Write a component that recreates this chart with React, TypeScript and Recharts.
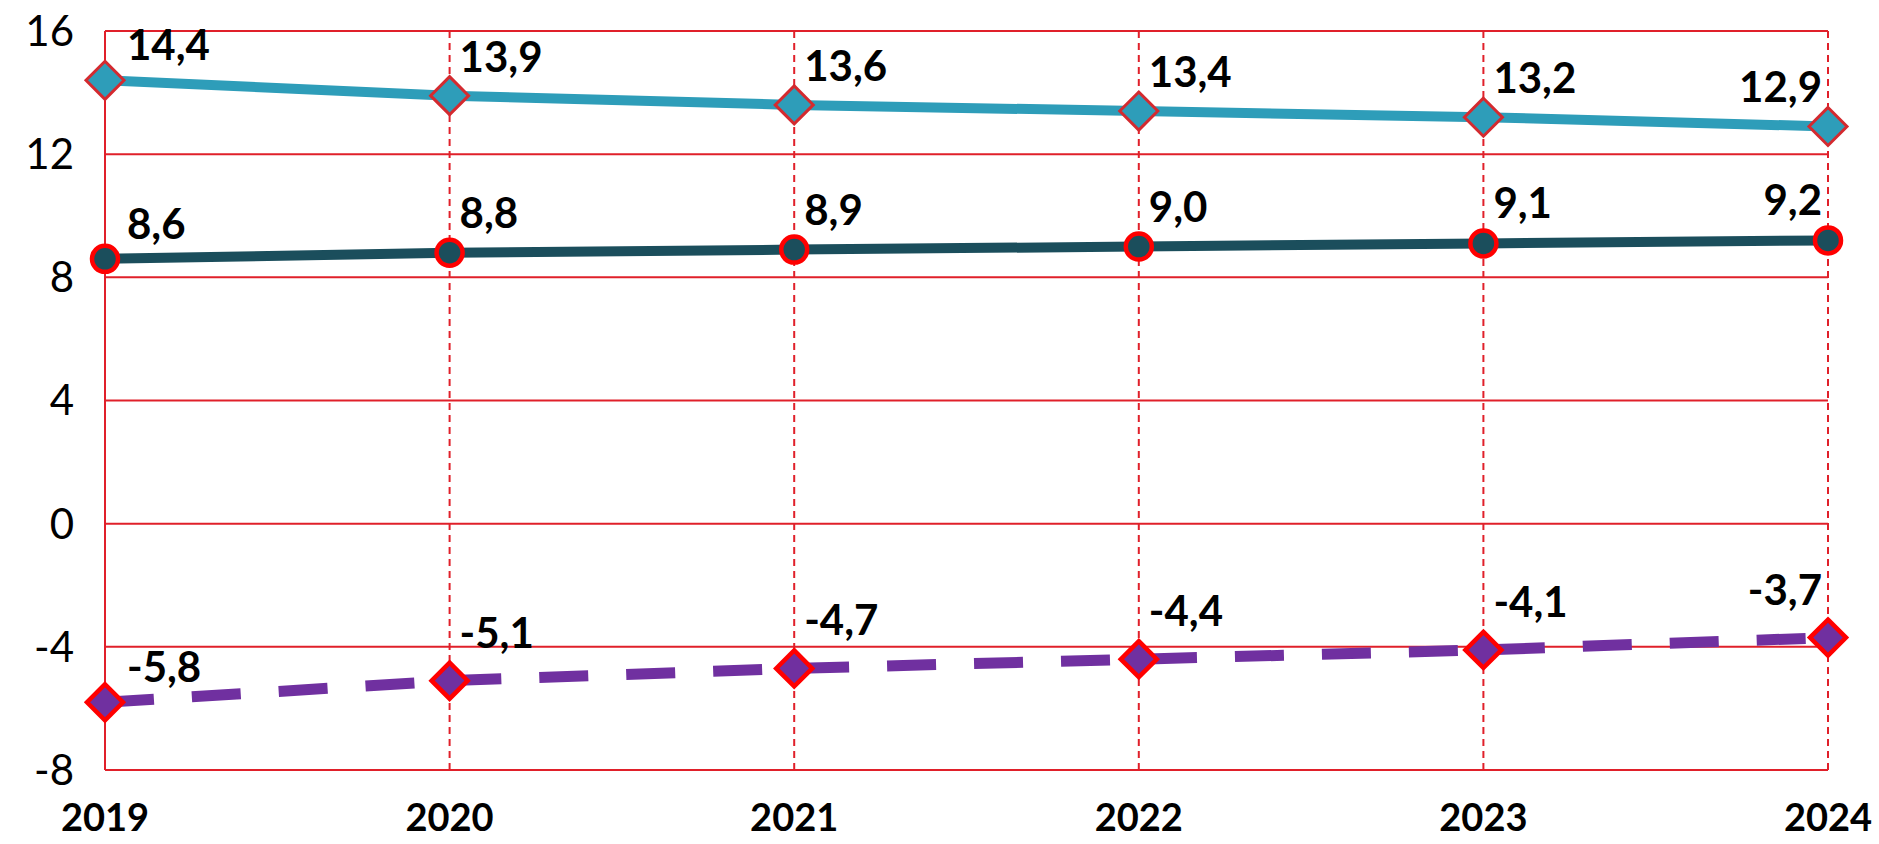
import React from 'react';
import { LineChart, Line, XAxis, YAxis, CartesianGrid, LabelList } from 'recharts';

const years = ['2019', '2020', '2021', '2022', '2023', '2024'];
const seriesTeal = [14.4, 13.9, 13.6, 13.4, 13.2, 12.9];
const seriesDark = [8.6, 8.8, 8.9, 9.0, 9.1, 9.2];
const seriesPurple = [-5.8, -5.1, -4.7, -4.4, -4.1, -3.7];
const yTicks = [-8, -4, 0, 4, 8, 12, 16];

const data = years.map((y, i) => ({
  year: y,
  teal: seriesTeal[i],
  dark: seriesDark[i],
  purple: seriesPurple[i],
}));

const FONT = 'Lato, "Open Sans", sans-serif';
const GRID = '#E0202A';

const fmt = (v: number) => v.toFixed(1).replace('.', ',');

const makeLabel = (dyMain: number) => (props: any) => {
  const { x, y, value, index } = props;
  const last = index === years.length - 1;
  const first = index === 0;
  const dx = last ? -6 : first ? 22 : 10;
  const dy = first ? -20 : dyMain;
  return (
    <text
      x={x + dx}
      y={y + dy}
      textAnchor={last ? 'end' : 'start'}
      fontFamily={FONT}
      fontWeight={700}
      fontSize={42}
      fill="#000"
    >
      {fmt(value)}
    </text>
  );
};

const diamondDot = (fill: string, stroke: string, sw: number, h: number) => (props: any) => {
  const { cx, cy, index } = props;
  if (cx == null || cy == null) return <g key={`d-${index}`} />;
  const pts = `${cx},${cy - h} ${cx + h},${cy} ${cx},${cy + h} ${cx - h},${cy}`;
  return <polygon key={`d-${index}`} points={pts} fill={fill} stroke={stroke} strokeWidth={sw} strokeLinejoin="miter" />;
};

const circleDot = (props: any) => {
  const { cx, cy, index } = props;
  if (cx == null || cy == null) return <g key={`c-${index}`} />;
  return <circle key={`c-${index}`} cx={cx} cy={cy} r={13} fill="#1B4E5C" stroke="#FF0000" strokeWidth={4.5} />;
};

export default function App() {
  return (
    <div style={{ position: 'absolute', left: 0, top: 0, width: 1879, height: 844, background: '#fff' }}>
      <LineChart
        width={1879}
        height={844}
        data={data}
        margin={{ top: 31, right: 51, bottom: 0, left: 0 }}
      >
        <CartesianGrid horizontal={true} vertical={false} stroke={GRID} strokeWidth={2} />
        <CartesianGrid horizontal={false} vertical={true} stroke={GRID} strokeWidth={2} strokeDasharray="7 5" />
        <XAxis
          dataKey="year"
          height={74}
          axisLine={false}
          tickLine={false}
          tickSize={0}
          tickMargin={34}
          interval={0}
          tick={{ fontFamily: FONT, fontWeight: 700, fontSize: 38, fill: '#000' }}
        />
        <YAxis
          width={105}
          domain={[-8, 16]}
          ticks={yTicks}
          interval={0}
          axisLine={{ stroke: GRID, strokeWidth: 2 }}
          tickLine={false}
          tickSize={0}
          tickMargin={31}
          tick={{ fontFamily: FONT, fontSize: 42, fill: '#000' }}
        />
        <Line
          dataKey="teal"
          stroke="#2E9DB9"
          strokeWidth={10}
          isAnimationActive={false}
          dot={diamondDot('#2E9DB9', '#D42A2F', 3, 19)}
        >
          <LabelList dataKey="teal" content={makeLabel(-24)} />
        </Line>
        <Line
          dataKey="dark"
          stroke="#1B4E5C"
          strokeWidth={10}
          isAnimationActive={false}
          dot={circleDot}
        >
          <LabelList dataKey="dark" content={makeLabel(-25)} />
        </Line>
        <Line
          dataKey="purple"
          stroke="#7030A0"
          strokeWidth={11}
          strokeDasharray="49 38"
          isAnimationActive={false}
          dot={diamondDot('#7030A0', '#FF0000', 4.5, 18)}
        >
          <LabelList dataKey="purple" content={makeLabel(-33)} />
        </Line>
      </LineChart>
    </div>
  );
}
